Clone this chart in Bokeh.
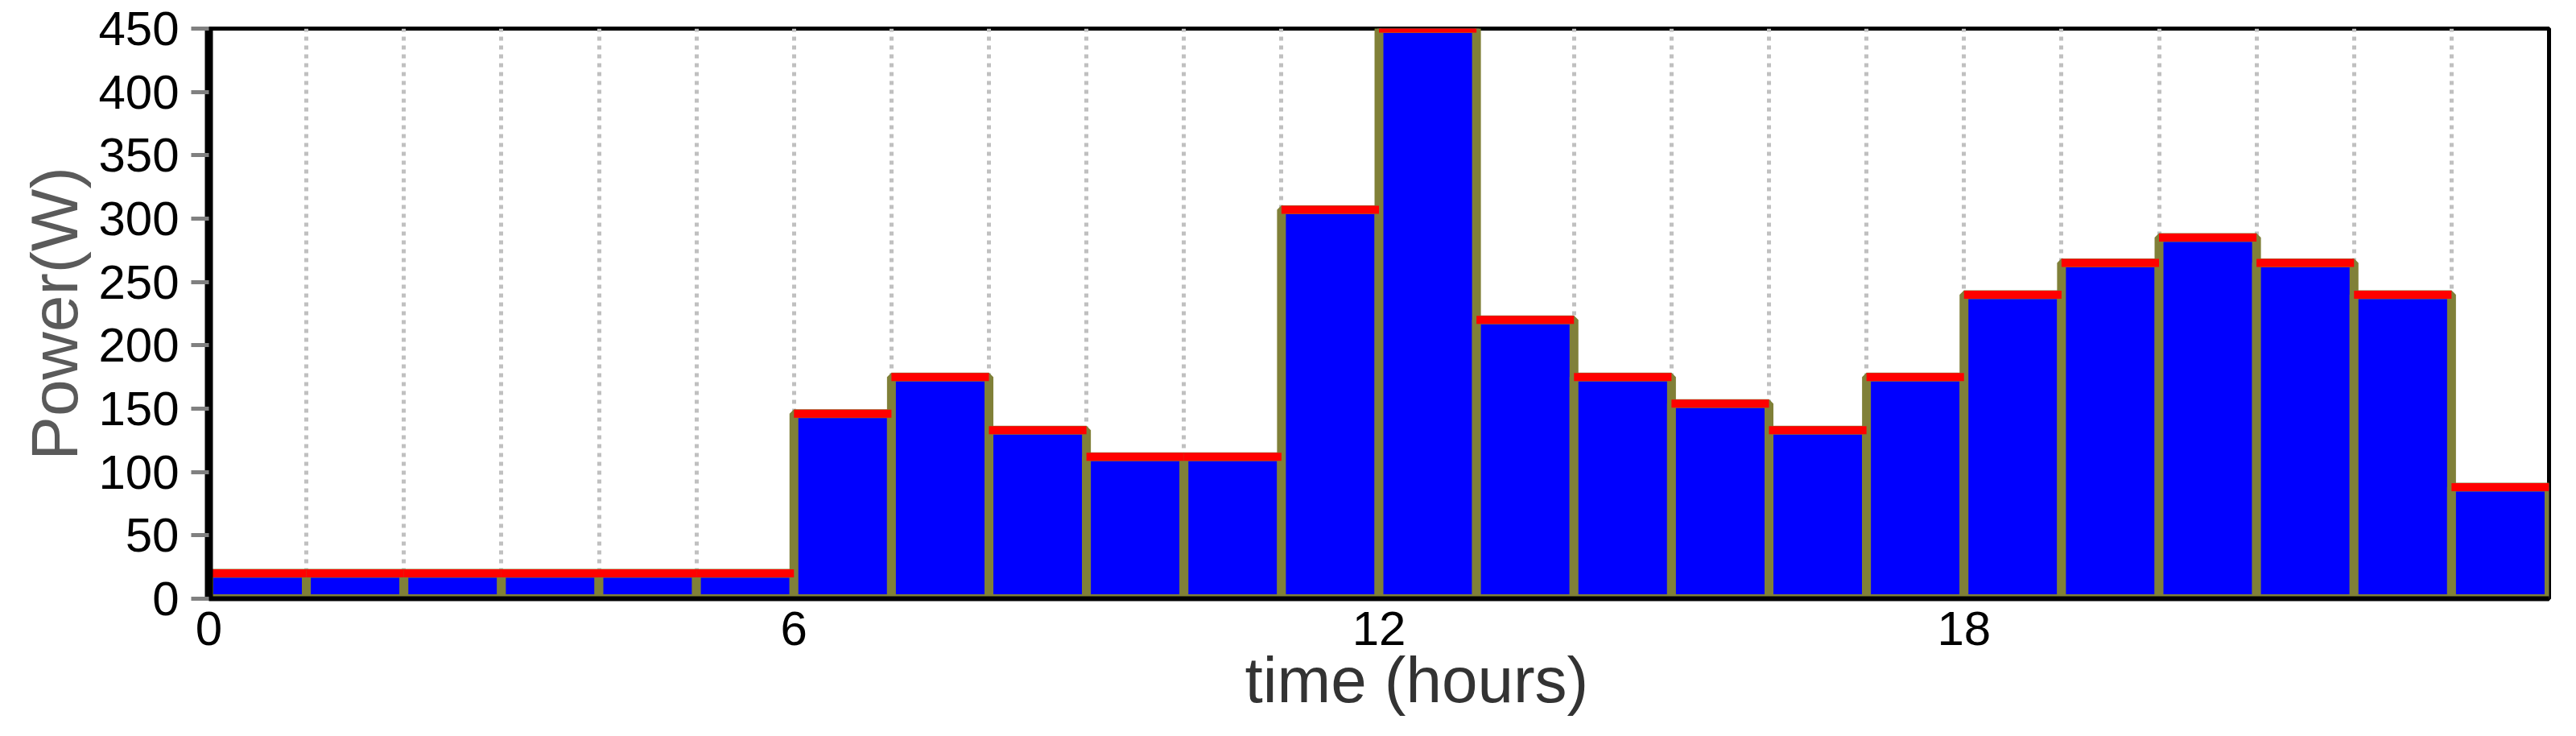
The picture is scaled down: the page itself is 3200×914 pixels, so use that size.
from bokeh.plotting import figure
from bokeh.models import FixedTicker, Range1d, Title, ColumnDataSource
from bokeh.embed import file_html
from bokeh.resources import INLINE

# ---- data ----
hour_start = list(range(24))
power_w = [20, 20, 20, 20, 20, 20, 146, 175, 133, 112, 112, 307,
           450, 220, 175, 154, 133, 175, 240, 265, 285, 265, 240, 88]
x_tick_values = [0, 6, 12, 18]
y_tick_values = [0, 50, 100, 150, 200, 250, 300, 350, 400, 450]
grid_hours = list(range(1, 24))
x_title = "time (hours)"
y_title = "Power(W)"

FONT = "Liberation Sans"

src = ColumnDataSource(dict(
    x=[h + 0.5 for h in hour_start],
    x0=hour_start,
    x1=[h + 1 for h in hour_start],
    top=power_w,
))

p = figure(width=3184, height=898, output_backend="svg", toolbar_location=None,
           x_range=Range1d(0, 24), y_range=Range1d(0, 450),
           min_border_left=259, min_border_right=18,
           min_border_top=35, min_border_bottom=155)
p.background_fill_color = "white"
p.border_fill_color = "white"
p.outline_line_color = "black"
p.outline_line_width = 5

# grids
p.ygrid.visible = False
p.xgrid.ticker = FixedTicker(ticks=grid_hours)
p.xgrid.grid_line_color = "#c0c0c0"
p.xgrid.grid_line_width = 5
p.xgrid.grid_line_dash = "5 6"

# bars
p.vbar(x="x", width=1, bottom=0, top="top", source=src,
       fill_color="#0000ff", line_color="#808038", line_width=11)
p.segment(x0="x0", x1="x1", y0="top", y1="top", source=src,
          line_color="#ff0000", line_width=10, line_cap="butt")

# x axis
xa = p.xaxis[0]
xa.ticker = FixedTicker(ticks=x_tick_values)
xa.axis_line_color = "black"
xa.axis_line_width = 6
xa.major_tick_out = 0
xa.major_tick_in = 0
xa.minor_tick_line_color = None
xa.major_label_standoff = 16
xa.major_label_text_font = FONT
xa.major_label_text_font_size = "60px"
xa.major_label_text_color = "black"

# y axis
ya = p.yaxis[0]
ya.ticker = FixedTicker(ticks=y_tick_values)
ya.axis_line_color = "black"
ya.axis_line_width = 10
ya.major_tick_out = 22
ya.major_tick_in = 0
ya.major_tick_line_color = "#808080"
ya.major_tick_line_width = 5
ya.minor_tick_line_color = None
ya.major_label_standoff = 15
ya.major_label_text_font = FONT
ya.major_label_text_font_size = "60px"
ya.major_label_text_color = "black"
ya.axis_label = y_title
ya.axis_label_text_font = FONT
ya.axis_label_text_font_size = "82px"
ya.axis_label_text_font_style = "normal"
ya.axis_label_text_color = "#5a5a5a"
ya.axis_label_standoff = 6

# x title, placed in the panel below the x axis
p.add_layout(Title(text=x_title, align="left", offset=1287,
                   vertical_align="top", standoff=-7,
                   text_font=FONT, text_font_size="80px",
                   text_font_style="normal", text_color="#333333"), "below")

open("out.html", "w").write(file_html(p, INLINE))
